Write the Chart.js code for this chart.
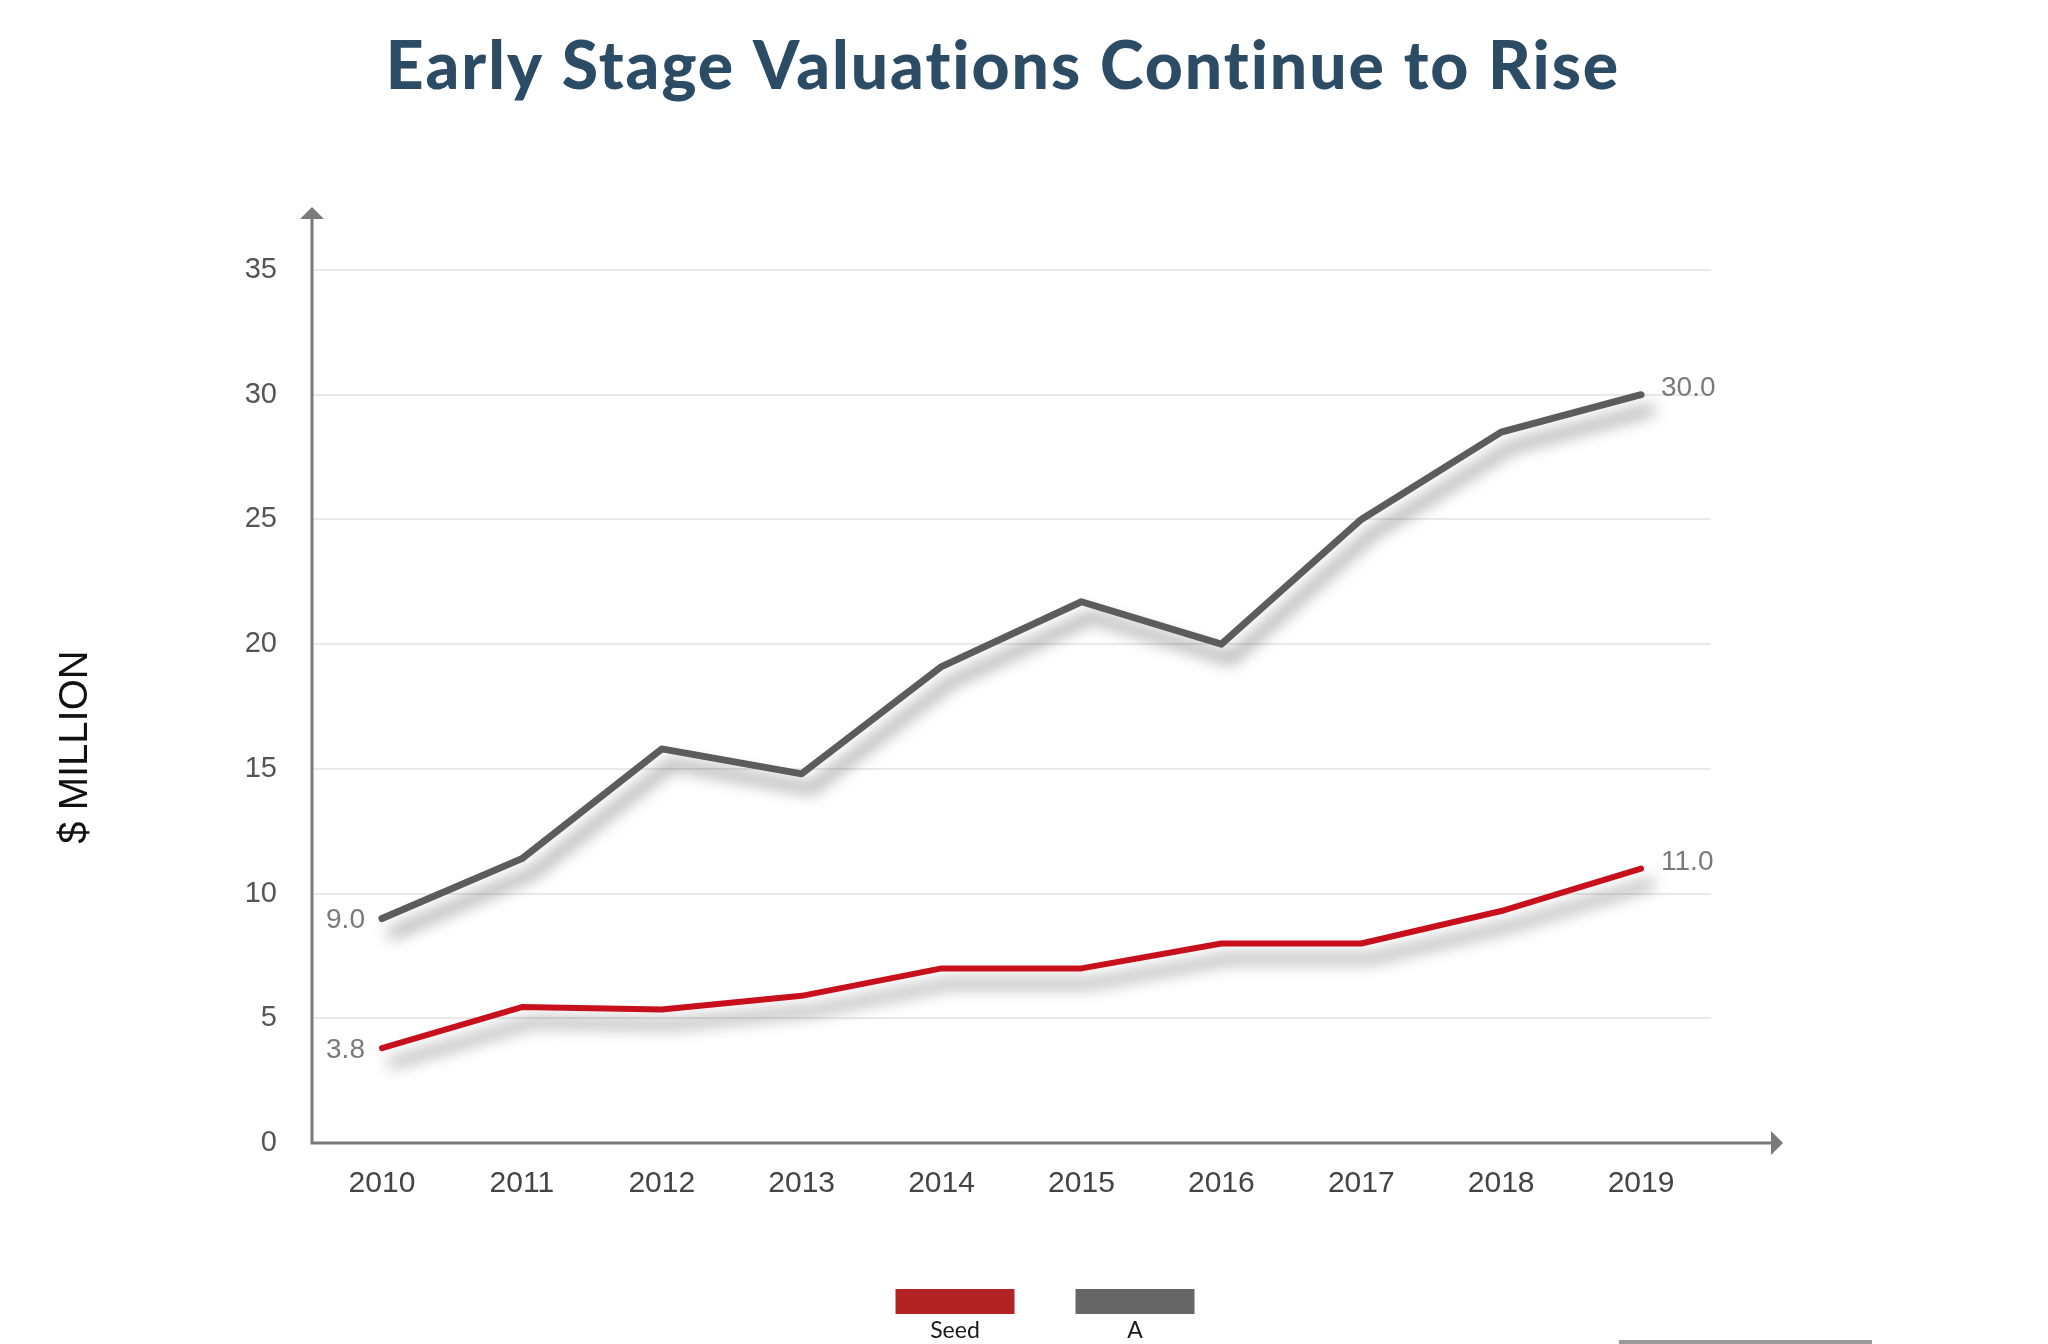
<!DOCTYPE html>
<html>
<head>
<meta charset="utf-8">
<title>Early Stage Valuations Continue to Rise</title>
<script src="https://cdn.jsdelivr.net/npm/chart.js@4.4.1/dist/chart.umd.min.js"></script>
<style>
  html, body { margin: 0; padding: 0; background: #fff; }
  #wrap { position: relative; width: 2048px; height: 1344px; overflow: hidden; }
  #slideBar { position: absolute; left: 1619px; top: 1340px; width: 253px; height: 4px; background: #9a9a9a; }
</style>
</head>
<body>
<div id="wrap">
  <canvas id="chart" width="2048" height="1344"></canvas>
  <div id="slideBar"></div>
</div>
<script>
  'use strict';

  // values ($ million)
  const YEARS = ['2010', '2011', '2012', '2013', '2014', '2015', '2016', '2017', '2018', '2019'];
  const SEED = [3.8, 5.45, 5.35, 5.9, 7.0, 7.0, 8.0, 8.0, 9.3, 11.0];
  const SERIES_A = [9.0, 11.4, 15.8, 14.8, 19.1, 21.7, 20.0, 25.0, 28.5, 30.0];
  const Y_MIN = 0;
  const Y_MAX = 35;
  const Y_STEP = 5;

  const TITLE = 'Early Stage Valuations Continue to Rise';
  const Y_TITLE = '$ MILLION';

  const SEED_LINE = '#c8101c';
  const A_LINE = '#5c5c5c';
  const SEED_SWATCH = '#b22222';
  const A_SWATCH = '#666666';
  const AXIS_COLOR = '#7a7a7a';
  const SANS = '"Liberation Sans", Arial, Helvetica, sans-serif';

  // slide heading, centred over the plot like the original slide
  const slideTitle = {
    id: 'slideTitle',
    afterDraw(chart) {
      const ctx = chart.ctx;
      ctx.save();
      ctx.font = '900 66px Lato, "Open Sans", sans-serif';
      if ('letterSpacing' in ctx) ctx.letterSpacing = '2px';
      ctx.fillStyle = '#2c4b65';
      ctx.textAlign = 'center';
      ctx.textBaseline = 'alphabetic';
      ctx.fillText(TITLE, 1003, 89);
      ctx.restore();
    },
  };

  // soft drop shadow under each line
  const lineShadow = {
    id: 'lineShadow',
    beforeDatasetDraw(chart) {
      const ctx = chart.ctx;
      ctx.save();
      ctx.shadowColor = 'rgba(0, 0, 0, 0.5)';
      ctx.shadowBlur = 16;
      ctx.shadowOffsetX = 10;
      ctx.shadowOffsetY = 15;
    },
    afterDatasetDraw(chart) {
      chart.ctx.restore();
    },
  };

  // axis lines with arrow heads, running past the plot area
  const arrowAxes = {
    id: 'arrowAxes',
    beforeDatasetsDraw(chart) {
      const { ctx, chartArea } = chart;
      const x0 = chartArea.left;
      const y0 = chartArea.bottom;
      const yTop = chartArea.top - 63;
      const xEnd = chartArea.right + 72;
      ctx.save();
      ctx.strokeStyle = AXIS_COLOR;
      ctx.fillStyle = AXIS_COLOR;
      ctx.lineWidth = 3;
      ctx.beginPath();
      ctx.moveTo(x0, y0);
      ctx.lineTo(x0, yTop + 10);
      ctx.moveTo(x0 - 1.5, y0);
      ctx.lineTo(xEnd - 10, y0);
      ctx.stroke();
      ctx.beginPath();
      ctx.moveTo(x0, yTop);
      ctx.lineTo(x0 - 12, yTop + 12);
      ctx.lineTo(x0 + 12, yTop + 12);
      ctx.closePath();
      ctx.fill();
      ctx.beginPath();
      ctx.moveTo(xEnd, y0);
      ctx.lineTo(xEnd - 12, y0 - 12);
      ctx.lineTo(xEnd - 12, y0 + 12);
      ctx.closePath();
      ctx.fill();
      ctx.restore();
    },
  };

  // first and last values printed beside the line ends
  const endLabels = {
    id: 'endLabels',
    afterDatasetsDraw(chart) {
      const ctx = chart.ctx;
      ctx.save();
      ctx.font = '28px ' + SANS;
      ctx.fillStyle = '#7a7a7a';
      ctx.textBaseline = 'middle';
      chart.data.datasets.forEach((ds, i) => {
        const pts = chart.getDatasetMeta(i).data;
        const first = pts[0];
        const last = pts[pts.length - 1];
        ctx.textAlign = 'right';
        ctx.fillText(ds.data[0].toFixed(1), first.x - 17, first.y + 2);
        ctx.textAlign = 'left';
        ctx.fillText(ds.data[ds.data.length - 1].toFixed(1), last.x + 20, last.y - 6);
      });
      ctx.restore();
    },
  };

  // vertical axis caption
  const yCaption = {
    id: 'yCaption',
    afterDraw(chart) {
      const ctx = chart.ctx;
      ctx.save();
      ctx.translate(76, 747);
      ctx.rotate(-Math.PI / 2);
      ctx.font = '40px ' + SANS;
      ctx.fillStyle = '#111';
      ctx.textAlign = 'center';
      ctx.textBaseline = 'middle';
      ctx.fillText(Y_TITLE, 0, 0);
      ctx.restore();
    },
  };

  // swatch legend with the name under each block
  const swatchLegend = {
    id: 'swatchLegend',
    afterDraw(chart) {
      const ctx = chart.ctx;
      const w = 119, h = 25, gap = 61, top = 1289;
      const sets = chart.data.datasets;
      let x = 1045 - (sets.length * w + (sets.length - 1) * gap) / 2;
      ctx.save();
      ctx.font = '23px Lato, "Open Sans", sans-serif';
      ctx.textAlign = 'center';
      ctx.textBaseline = 'middle';
      sets.forEach((ds) => {
        ctx.fillStyle = ds.swatch;
        ctx.fillRect(x, top, w, h);
        ctx.fillStyle = '#1a1a1a';
        ctx.fillText(ds.label, x + w / 2, top + h + 17);
        x += w + gap;
      });
      ctx.restore();
    },
  };

  const ctx = document.getElementById('chart').getContext('2d');
  new Chart(ctx, {
    type: 'line',
    data: {
      labels: YEARS,
      datasets: [
        {
          label: 'Seed',
          data: SEED,
          borderColor: SEED_LINE,
          swatch: SEED_SWATCH,
          borderWidth: 6,
          borderCapStyle: 'round',
          borderJoinStyle: 'round',
          pointRadius: 0,
          fill: false,
          tension: 0,
          clip: false,
        },
        {
          label: 'A',
          data: SERIES_A,
          borderColor: A_LINE,
          swatch: A_SWATCH,
          borderWidth: 7,
          borderCapStyle: 'round',
          borderJoinStyle: 'round',
          pointRadius: 0,
          fill: false,
          tension: 0,
          clip: false,
        },
      ],
    },
    options: {
      responsive: false,
      animation: false,
      events: [],
      layout: { padding: { left: 0, right: 337, top: 270, bottom: 0 } },
      plugins: {
        legend: { display: false },
        tooltip: { enabled: false },
        title: { display: false },
      },
      scales: {
        x: {
          offset: true,
          border: { display: false },
          grid: { display: false, drawTicks: false },
          ticks: {
            color: '#444',
            padding: 23,
            font: { family: SANS, size: 30 },
            maxRotation: 0,
          },
          afterFit(scale) { scale.height = 201; },
        },
        y: {
          min: Y_MIN,
          max: Y_MAX,
          border: { display: false },
          grid: {
            drawTicks: false,
            lineWidth: 2,
            color: (c) => (c.tick && c.tick.value === Y_MIN ? 'rgba(0,0,0,0)' : '#e9e9e9'),
          },
          ticks: {
            stepSize: Y_STEP,
            color: '#555',
            padding: 35,
            font: { family: SANS, size: 29 },
          },
          afterFit(scale) { scale.width = 312; },
        },
      },
    },
    plugins: [arrowAxes, lineShadow, endLabels, yCaption, swatchLegend, slideTitle],
  });
</script>
</body>
</html>
